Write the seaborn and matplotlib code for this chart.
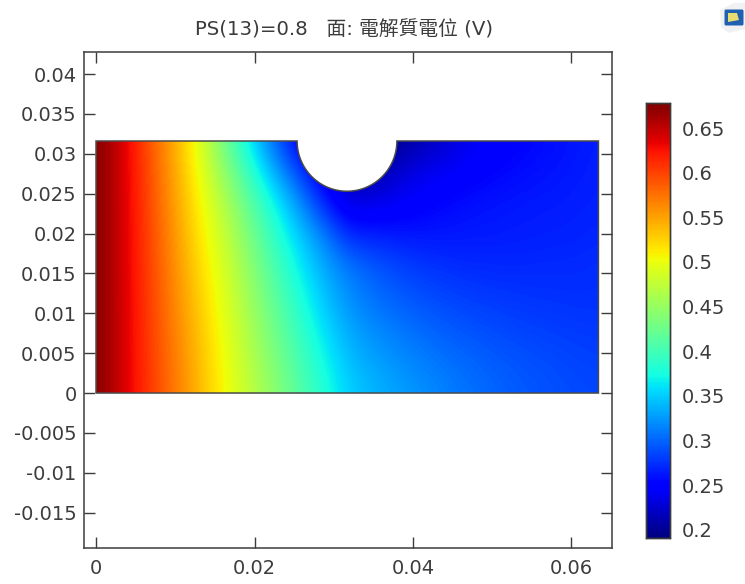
import numpy as np
import pandas as pd
import matplotlib
matplotlib.use("Agg")
import matplotlib.pyplot as plt
from matplotlib.patches import FancyBboxPatch, PathPatch, Polygon
from matplotlib.path import Path
import seaborn as sns

# Grid of the potential (V), rows from y=0 upwards
x_grid = [0, .003175, .00635, .009525, .0127, .015875, .01905, .022225, .0254, .028575, .03175,
          .034925, .0381, .041275, .04445, .047625, .0508, .053975, .05715, .060325, .0635]
y_grid = [0, .00395, .0079, .01185, .0158, .01975, .0237, .02765, .0316]
row_0 = [.678, .643, .609, .575, .542, .508, .477, .446, .414, .383, .352, .340, .330, .321, .313, .306, .300, .295, .291, .288, .286]
row_1 = [.678, .643, .608, .574, .540, .505, .472, .439, .406, .374, .344, .331, .321, .313, .306, .300, .295, .291, .288, .285, .283]
row_2 = [.678, .643, .607, .571, .536, .501, .465, .430, .395, .361, .333, .319, .310, .302, .296, .291, .287, .284, .282, .280, .279]
row_3 = [.678, .643, .606, .568, .531, .496, .458, .420, .383, .348, .321, .307, .297, .290, .285, .281, .279, .277, .276, .275, .275]
row_4 = [.678, .643, .604, .565, .525, .490, .449, .408, .369, .335, .310, .295, .285, .278, .274, .272, .271, .271, .272, .272, .274]
row_5 = [.678, .643, .603, .561, .519, .481, .438, .393, .352, .316, .272, .268, .264, .263, .263, .264, .265, .266, .267, .268, .270]
row_6 = [.678, .643, .601, .557, .513, .470, .422, .374, .327, .272, .232, .238, .243, .250, .256, .260, .262, .264, .265, .266, .268]
row_7 = [.678, .643, .599, .553, .506, .452, .398, .340, .288, .240, .215, .208, .228, .240, .243, .250, .254, .258, .261, .264, .267]
row_8 = [.678, .643, .597, .549, .500, .432, .368, .305, .250, .215, .200, .195, .198, .215, .228, .242, .248, .253, .258, .262, .266]

x_ticks = [0, 0.02, 0.04, 0.06]
x_labels = ["0", "0.02", "0.04", "0.06"]
y_ticks = [-0.015, -0.01, -0.005, 0, 0.005, 0.01, 0.015, 0.02, 0.025, 0.03, 0.035, 0.04]
y_labels = ["-0.015", "-0.01", "-0.005", "0", "0.005", "0.01", "0.015", "0.02", "0.025", "0.03", "0.035", "0.04"]
cbar_ticks = [0.2, 0.25, 0.3, 0.35, 0.4, 0.45, 0.5, 0.55, 0.6, 0.65]
cbar_labels = ["0.2", "0.25", "0.3", "0.35", "0.4", "0.45", "0.5", "0.55", "0.6", "0.65"]

sns.set_style("ticks")
plt.rcParams['font.family'] = ['DejaVu Sans', 'Noto Sans CJK TC']
ink = "#3c3c3c"

df = pd.DataFrame([row_0, row_1, row_2, row_3, row_4, row_5, row_6, row_7, row_8], index=y_grid, columns=x_grid)

W, H = 745, 584
fig = plt.figure(figsize=(W / 100, H / 100), dpi=100)
ax = fig.add_axes([83.5 / W, 1 - 547.5 / H, 528 / W, 495.5 / H])
cax = fig.add_axes([645.5 / W, 1 - 538 / H, 24.5 / W, 435 / H])

# seaborn sets up the colour scale and colorbar, the field itself goes on numeric axes
sns.heatmap(df, ax=ax, cbar_ax=cax, cmap="jet", vmin=0.191, vmax=0.678, xticklabels=False, yticklabels=False,
            cbar_kws={"ticks": cbar_ticks})
mesh = ax.collections[0]
mesh.set_visible(False)

dx = x_grid[1] - x_grid[0]
dy = y_grid[1] - y_grid[0]
img = ax.imshow(df.values, cmap=mesh.cmap, norm=mesh.norm, origin="lower", aspect="auto", interpolation="bicubic",
                extent=[x_grid[0] - dx / 2, x_grid[-1] + dx / 2, y_grid[0] - dy / 2, y_grid[-1] + dy / 2])

# Domain outline: rectangle with a semicircular notch in the top edge
xc, r, top, right = 0.03167, 0.0063, 0.0316, 0.0634
ang = np.linspace(2 * np.pi, np.pi, 60)
outline = [(0, 0), (right, 0), (right, top)] + [(xc + r * np.cos(a), top + r * np.sin(a)) for a in ang] + [(0, top), (0, 0)]
domain = PathPatch(Path(outline), facecolor="none", edgecolor="#4a4a4a", lw=1.1, zorder=3)
ax.add_patch(domain)
img.set_clip_path(domain)

ax.set_xlim(-0.00158, 0.06505)
ax.set_ylim(-0.01937, 0.04276)
ax.set_xticks(x_ticks, x_labels)
ax.set_yticks(y_ticks, y_labels)
ax.tick_params(axis="both", direction="in", length=8, width=1, color=ink, labelcolor=ink, labelsize=14,
               top=True, right=True, bottom=True, left=True)
ax.tick_params(axis="x", pad=8)
ax.tick_params(axis="y", pad=5)
ax.set_xlabel("")
ax.set_ylabel("")
for s in ax.spines.values():
    s.set_visible(True)
    s.set_color(ink)
    s.set_linewidth(1.1)

cax.set_yticks(cbar_ticks, cbar_labels)
cax.tick_params(axis="y", direction="in", length=4, width=1, color="black", labelcolor=ink, labelsize=14,
                left=True, right=True, pad=8.5)
for s in cax.spines.values():
    s.set_visible(True)
    s.set_color(ink)
    s.set_linewidth(1)

fig.text(344 / W, 1 - 30 / H, "PS(13)=0.8   面: 電解質電位 (V)", ha="center", va="center", fontsize=14.2, color=ink)

# Small logo in the corner
logo = fig.add_axes([718 / W, 1 - 36 / H, 27 / W, 33 / H])
logo.set_xlim(0, 27)
logo.set_ylim(0, 33)
logo.axis("off")
logo.add_patch(Polygon([(2, 26), (16, 33), (27, 33), (27, 7), (10, 3), (3, 9)], fc="#f0f1f2", ec="none"))
logo.add_patch(FancyBboxPatch((8, 12), 16, 13, boxstyle="round,pad=1.5", fc="#2060b0", ec="none"))
logo.add_patch(Polygon([(10, 14), (21, 16), (19, 23), (10, 23)], fc="#e8dc70", ec="none"))

fig.savefig("out.png", dpi=100)
